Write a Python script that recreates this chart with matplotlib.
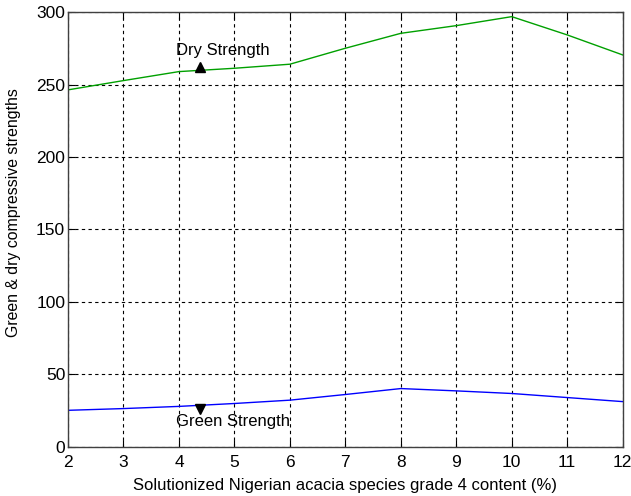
import matplotlib
matplotlib.use("Agg")
import matplotlib.pyplot as plt

x_content = [2, 3, 4, 5, 6, 7, 8, 9, 10, 11, 12]
dry_strength = [246.3, 252.7, 258.9, 261.2, 264.0, 275.0, 285.3, 290.6, 296.8, 284.2, 270.4]
green_strength = [25.3, 26.5, 28.0, 30.0, 32.3, 36.2, 40.3, 38.7, 36.9, 34.1, 31.3]
xticks = [2, 3, 4, 5, 6, 7, 8, 9, 10, 11, 12]
yticks = [0, 50, 100, 150, 200, 250, 300]

plt.rcParams['font.family'] = ['Liberation Sans', 'DejaVu Sans']

fig = plt.figure(figsize=(6.31, 4.96), dpi=100)
ax = fig.add_axes([0.1078, 0.0988, 0.879, 0.877])

ax.plot(x_content, dry_strength, color='#00a000', lw=1.0)
ax.plot(x_content, green_strength, color='#0000ff', lw=1.0)

ax.set_xlim(2, 12)
ax.set_ylim(0, 300)
ax.set_xticks(xticks)
ax.set_yticks(yticks)
ax.grid(True, color='black', linestyle=(0, (3, 3)), linewidth=0.8)
ax.tick_params(direction='in', top=True, right=True, length=5, labelsize=12.5, pad=2)
ax.tick_params(axis='x', pad=5.5)
for s in ax.spines.values():
    s.set_linewidth(1.0)
    s.set_color('#404040')

ax.plot([4.38], [262], marker='^', color='black', markersize=7, linestyle='none')
ax.text(3.95, 268, 'Dry Strength', fontsize=12, ha='left', va='bottom')
ax.plot([4.38], [26.5], marker='v', color='black', markersize=7, linestyle='none')
ax.text(3.95, 17.4, 'Green Strength', fontsize=12, ha='left', va='center')

ax.set_xlabel('Solutionized Nigerian acacia species grade 4 content (%)', fontsize=12, labelpad=6)
ax.set_ylabel('Green & dry compressive strengths', fontsize=11.4)
ax.yaxis.set_label_coords(-0.084, 0.538)

fig.savefig('out.png', dpi=100)
